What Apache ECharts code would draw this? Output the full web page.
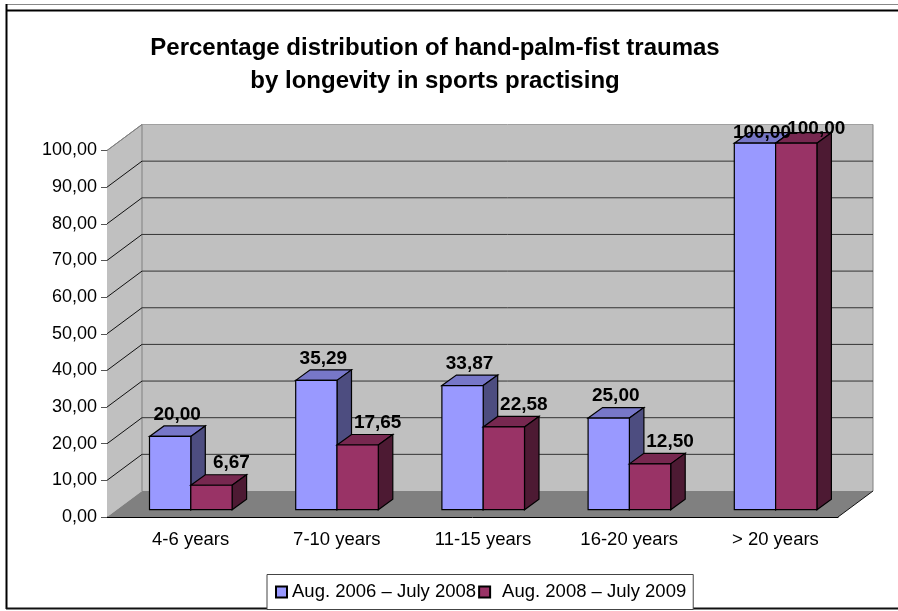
<!DOCTYPE html>
<html>
<head>
<meta charset="utf-8">
<script src="https://cdn.jsdelivr.net/npm/echarts@6/dist/echarts.min.js"></script>
<style>
  html, body { margin: 0; padding: 0; background: #fff; }
  #chart { width: 898px; height: 611px; }
</style>
</head>
<body>
<div id="chart"></div>
<script>
var categories = ['4-6 years', '7-10 years', '11-15 years', '16-20 years', '> 20 years'];
var series2006 = [20.00, 35.29, 33.87, 25.00, 100.00];
var series2008 = [6.67, 17.65, 22.58, 12.50, 100.00];
var seriesNames = ['Aug. 2006 \u2013 July 2008', 'Aug. 2008 \u2013 July 2009'];
var gridTicks = [0, 10, 20, 30, 40, 50, 60, 70, 80, 90, 100];

var FONT = '"Liberation Sans", Arial, sans-serif';
// 3d look, all in px
var WALL_DX = 35, WALL_DY = -26;
var BAR_DX = 10.7, BAR_DY = -7.3;
var SIDE_DX = 14.5, SIDE_DY = -10.5;
var BAR_RATIO = 0.2825;

function comma(v) {
    return v.toFixed(2).replace('.', ',');
}

function poly(points, fill, stroke, lineWidth) {
    return {
        type: 'polygon',
        shape: { points: points },
        style: { fill: fill, stroke: stroke, lineWidth: lineWidth }
    };
}

function segment(x1, y1, x2, y2, color, z2) {
    return {
        type: 'line',
        z2: z2 || 0,
        shape: { x1: x1, y1: y1, x2: x2, y2: y2 },
        style: { stroke: color, lineWidth: 1 }
    };
}

// walls + floor + gridlines
function renderWalls(params, api) {
    var cs = params.coordSys;
    var y = api.coord([0, api.value(0)])[1];
    var left = cs.x, right = cs.x + cs.width;
    var bottom = cs.y + cs.height, top = cs.y;
    var children = [];
    if (params.dataIndex === 0) {
        children.push(poly([[left, top], [left + WALL_DX, top + WALL_DY], [right + WALL_DX, top + WALL_DY], [right + WALL_DX, bottom + WALL_DY], [left + WALL_DX, bottom + WALL_DY], [left, bottom]], '#c0c0c0', 'none', 0));
        children.push(poly([[left, bottom], [left + WALL_DX, bottom + WALL_DY], [right + WALL_DX, bottom + WALL_DY], [right, bottom]], '#808080', 'none', 0));
        children.push(segment(left, top, left + WALL_DX, top + WALL_DY, '#808080', 1));
        children.push(segment(left + WALL_DX, top + WALL_DY, right + WALL_DX, top + WALL_DY, '#a0a0a0', 1));
        children.push(segment(right + WALL_DX, top + WALL_DY, right + WALL_DX, bottom + WALL_DY, '#808080', 1));
        children.push(segment(left + WALL_DX, top + WALL_DY, left + WALL_DX, bottom + WALL_DY, '#808080', 1));
        children.push(segment(right, bottom, right + WALL_DX, bottom + WALL_DY, '#111', 1));
    } else if (api.value(0) < 100) {
        children.push(segment(left, y, left + WALL_DX, y + WALL_DY, '#111', 2));
        children.push(segment(left + WALL_DX, y + WALL_DY, right + WALL_DX, y + WALL_DY, '#333', 2));
    } else {
        children.push(segment(left, y, left + WALL_DX, y + WALL_DY, '#808080', 2));
    }
    return { type: 'group', children: children };
}

function barRenderer(idx, colors, labelDx, labelMinY) {
    return function (params, api) {
        var base = api.coord([api.value(0), 0]);
        var tip = api.coord([api.value(0), api.value(1)]);
        var band = api.size([1, 0])[0];
        var w = band * BAR_RATIO;
        var x0 = base[0] + BAR_DX - w + idx * w;
        var x1 = x0 + w;
        var yb = base[1] + BAR_DY;
        var yt = tip[1] + BAR_DY;
        var sx = SIDE_DX, sy = SIDE_DY;
        return {
            type: 'group',
            children: [
                poly([[x0, yt], [x0 + sx, yt + sy], [x1 + sx, yt + sy], [x1, yt]], colors.top, '#000', 1.2),
                poly([[x1, yt], [x1 + sx, yt + sy], [x1 + sx, yb + sy], [x1, yb]], colors.side, '#000', 1.2),
                poly([[x0, yt], [x1, yt], [x1, yb], [x0, yb]], colors.front, '#000', 1.2),
                {
                    type: 'text',
                    z2: 100,
                    style: {
                        x: x0 + w / 2 + labelDx,
                        y: Math.max(yt - 22, labelMinY),
                        text: comma(api.value(1)),
                        fill: '#000',
                        font: 'bold 19px ' + FONT,
                        textAlign: 'center',
                        textVerticalAlign: 'middle'
                    }
                }
            ]
        };
    };
}

function toData(values) {
    return values.map(function (v, i) { return [i, v]; });
}

var chart = echarts.init(document.getElementById('chart'));
chart.setOption({
    animation: false,
    backgroundColor: '#fff',
    textStyle: { fontFamily: FONT },
    title: {
        text: 'Percentage distribution of hand-palm-fist traumas\nby longevity in sports practising',
        left: 430,
        top: 27,
        textAlign: 'center',
        textStyle: { fontFamily: FONT, fontSize: 24, fontWeight: 'bold', color: '#000', lineHeight: 33 }
    },
    legend: {
        left: 267,
        top: 574.5,
        itemWidth: 11,
        itemHeight: 11,
        itemGap: 2,
        icon: 'rect',
        padding: [8, 7, 8, 8],
        borderColor: '#444',
        borderWidth: 1,
        backgroundColor: '#fff',
        data: seriesNames,
        // the second entry sits further from its swatch in the original
        formatter: function (name) {
            return name === seriesNames[1] ? '{gap|}' + name : name;
        },
        textStyle: {
            fontFamily: FONT,
            fontSize: 18.5,
            color: '#000',
            rich: { gap: { width: 7, fontSize: 18.5 } }
        }
    },
    grid: { left: 107, right: 60, top: 150.5, bottom: 94 },
    xAxis: {
        type: 'category',
        data: categories,
        axisLine: { lineStyle: { color: '#000', width: 1 } },
        axisTick: { length: 6, lineStyle: { color: '#555' } },
        axisLabel: { color: '#000', fontSize: 18.5, fontFamily: FONT, margin: 13, padding: [0, 0, 0, 21] },
        splitLine: { show: false }
    },
    yAxis: {
        type: 'value',
        min: 0,
        max: 100,
        interval: 10,
        axisLine: { show: true, lineStyle: { color: '#333', width: 1 } },
        axisTick: { show: true, length: 6, lineStyle: { color: '#555' } },
        axisLabel: { color: '#000', fontSize: 18, fontFamily: FONT, margin: 10, formatter: comma },
        splitLine: { show: false }
    },
    series: [
        {
            type: 'custom',
            silent: true,
            z: 1,
            clip: false,
            data: gridTicks.map(function (v) { return [v]; }),
            encode: { x: -1, y: 0 },
            renderItem: renderWalls
        },
        {
            name: seriesNames[0],
            type: 'custom',
            z: 3,
            clip: false,
            itemStyle: { color: '#9999ff', borderColor: '#000', borderWidth: 1 },
            data: toData(series2006),
            encode: { x: 0, y: 1 },
            renderItem: barRenderer(0, { front: '#9999ff', top: '#7777c8', side: '#4d4d80' }, 7, 133)
        },
        {
            name: seriesNames[1],
            type: 'custom',
            z: 3,
            clip: false,
            itemStyle: { color: '#993366', borderColor: '#000', borderWidth: 1 },
            data: toData(series2008),
            encode: { x: 0, y: 1 },
            renderItem: barRenderer(1, { front: '#993366', top: '#772850', side: '#4d1a33' }, 20, 129)
        }
    ],
    graphic: [
        // page frame lines
        { type: 'line', silent: true, shape: { x1: 6, y1: 4.5, x2: 898, y2: 4.5 }, style: { stroke: '#888', lineWidth: 1 } },
        { type: 'line', silent: true, shape: { x1: 6, y1: 10.5, x2: 898, y2: 10.5 }, style: { stroke: '#000', lineWidth: 2 } },
        { type: 'line', silent: true, shape: { x1: 6.5, y1: 4, x2: 6.5, y2: 609 }, style: { stroke: '#000', lineWidth: 2 } },
        { type: 'line', silent: true, shape: { x1: 6, y1: 608.5, x2: 898, y2: 608.5 }, style: { stroke: '#111', lineWidth: 2 } }
    ]
});
</script>
</body>
</html>
